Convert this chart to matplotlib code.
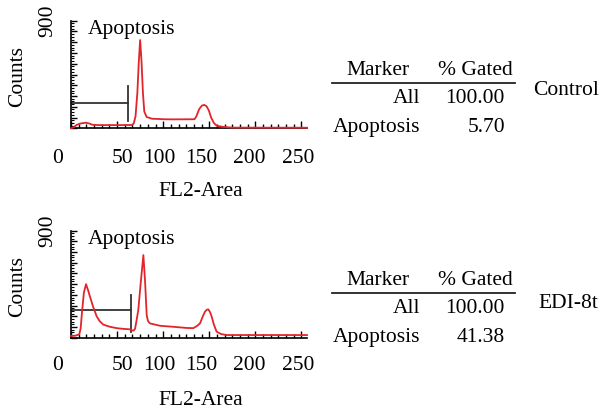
import matplotlib
matplotlib.use("Agg")
import matplotlib.pyplot as plt
from matplotlib.ticker import MultipleLocator, FixedLocator, NullFormatter, FuncFormatter
from matplotlib.lines import Line2D
from matplotlib.transforms import blended_transform_factory

plt.rcParams['font.family'] = ['Liberation Serif', 'DejaVu Serif']
FS = 15.5

# ---------------- data ----------------
ctrl_x = [0, 3, 6, 10, 16, 20, 23, 30, 50, 66, 68, 70, 72, 73.5, 75, 76.5, 78, 79.5, 82, 88,
          96, 100, 110, 134, 136, 139, 142, 144.5, 147, 149.5, 152, 155, 158, 165, 175, 256]
ctrl_y = [0, 10, 28, 40, 47, 40, 30, 27, 27, 28, 40, 100, 300, 550, 738, 560, 300, 140, 95, 80,
          78, 76, 75, 76, 100, 160, 190, 196, 185, 150, 90, 45, 22, 12, 6, 5]

edi_x = [0, 5, 9, 10.5, 12, 14, 16.3, 18.5, 20.6, 24, 27.8, 31, 35, 42, 49.6, 57, 64, 66, 68,
         69.5, 71, 73, 75.5, 78.5, 80.3, 82.1, 83.5, 85.7, 96.6, 110, 125, 132.7, 137, 140, 143,
         145.4, 147.5, 149, 150.8, 152.6, 155, 158, 163, 169, 256]
edi_y = [14, 17, 28, 80, 220, 380, 450, 400, 345, 260, 180, 140, 110, 92, 80, 74, 70, 62, 60,
         75, 140, 233, 450, 695, 480, 190, 140, 120, 100, 92, 82, 80, 100, 121, 180,
         219, 236, 238, 215, 177, 110, 50, 30, 22, 22]

gate_end = [62.2, 64.7]          # gate right edge (FL2 channel)
gate_level = [213, 233]          # gate horizontal line (counts)
gate_bar = [(61, 353), (50, 359)]  # vertical bar extent (low, high)

xtick_labels = ['0', '50', '100', '150', '200', '250']
xtick_label_pos = [-15, 56, 96, 141, 193, 246]   # where labels sit (as printed)
xmajor = [0, 50, 100, 150, 200, 250]

table_header = ['Marker', '% Gated']
table_markers = ['All', 'Apoptosis']
ctrl_pct = ['100.00', '5.70']
edi_pct = ['100.00', '41.38']
sample_names = ['Control', 'EDI-8t']

# ---------------- figure ----------------
W, H = 607, 412
fig = plt.figure(figsize=(W / 100, H / 100), dpi=100)

def fx(px):
    return px / W

def fy(py):
    return 1 - py / H

axes_px = [(71, 307, 20.67, 128.33), (71, 307, 230.67, 337.67)]
label_drop = [29.7, 27.5]   # pixels from axis line to tick-label centre
curves = [(ctrl_x, ctrl_y), (edi_x, edi_y)]
red = '#e3242b'

for i, (l, r, t, b) in enumerate(axes_px):
    ax = fig.add_axes([fx(l), fy(b), fx(r) - fx(l), fy(t) - fy(b)])
    hpx = b - t
    ax.set_xlim(0, 256)
    ax.set_ylim(0, 900)
    for s in ['top', 'right']:
        ax.spines[s].set_visible(False)
    for s in ['left', 'bottom']:
        ax.spines[s].set_linewidth(1.2)
    ax.patch.set_alpha(0)

    cx, cy = curves[i]
    ax.plot(cx, cy, color=red, lw=1.3, clip_on=False, zorder=3)

    # gate
    ax.plot([0, gate_end[i]], [gate_level[i], gate_level[i]], color='#333333', lw=1.3, zorder=2)
    ax.plot([gate_end[i], gate_end[i]], list(gate_bar[i]), color='#333333', lw=1.3, zorder=2)
    ax.text(18.4, 790, 'Apoptosis', fontsize=FS, ha='left', va='baseline')

    # x ticks: tick marks; labels placed where printed
    ax.xaxis.set_major_locator(FixedLocator(xmajor))
    ax.xaxis.set_major_formatter(NullFormatter())
    ax.xaxis.set_minor_locator(MultipleLocator(50 / 6))
    ax.tick_params(axis='x', which='major', direction='in', length=5, width=1)
    ax.tick_params(axis='x', which='minor', direction='in', length=3, width=1)
    trans = blended_transform_factory(ax.transData, ax.transAxes)
    for pos, lab in zip(xtick_label_pos, xtick_labels):
        ax.text(pos, -label_drop[i] / hpx, lab, transform=trans, fontsize=FS,
                ha='center', va='center', clip_on=False)

    # y ticks
    ax.yaxis.set_major_locator(MultipleLocator(90))
    ax.yaxis.set_major_formatter(FuncFormatter(lambda v, p: '900' if abs(v - 900) < 1 else ''))
    ax.yaxis.set_minor_locator(MultipleLocator(22.5))
    ax.tick_params(axis='y', which='major', direction='in', length=4, width=1, pad=10,
                   labelsize=FS, labelrotation=90)
    ax.tick_params(axis='y', which='minor', direction='in', length=2.5, width=0.8)
    for lab in ax.get_yticklabels():
        lab.set_va('center')

    ax.set_ylabel('Counts', fontsize=FS)
    ax.yaxis.set_label_coords(-0.185, 0.48)
    ax.set_xlabel('FL2-Area', fontsize=FS)
    ax.xaxis.set_label_coords(0.55, -0.5)

# ---------------- tables ----------------
tables = [
    dict(head=75, line=83.3, rows=[103, 131.7], name=95, pct=ctrl_pct, name_x=533),
    dict(head=285, line=293, rows=[313, 341.7], name=308, pct=edi_pct, name_x=538),
]
for i, tb in enumerate(tables):
    fig.text(fx(410), fy(tb['head']), table_header[0], fontsize=FS, ha='right', va='baseline')
    fig.text(fx(513), fy(tb['head']), table_header[1], fontsize=FS, ha='right', va='baseline')
    fig.add_artist(Line2D([fx(332), fx(515)], [fy(tb['line']), fy(tb['line'])],
                          color='#222222', lw=1.3))
    for j, m in enumerate(table_markers):
        if j == 0:
            fig.text(fx(420), fy(tb['rows'][j]), m, fontsize=FS, ha='right', va='baseline')
        else:
            fig.text(fx(333), fy(tb['rows'][j]), m, fontsize=FS, ha='left', va='baseline')
        fig.text(fx(505), fy(tb['rows'][j]), tb['pct'][j], fontsize=FS, ha='right', va='baseline')
    fig.text(fx(tb['name_x']), fy(tb['name']), sample_names[i], fontsize=FS, ha='left', va='baseline')

fig.savefig('out.png', dpi=100)
